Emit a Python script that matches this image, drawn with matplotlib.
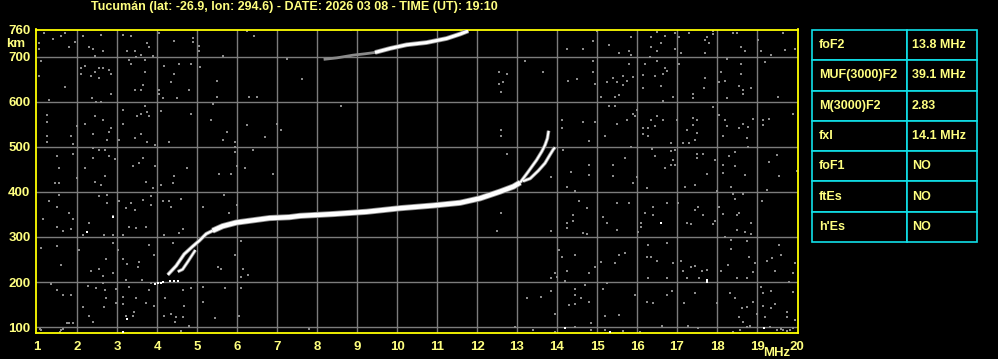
import matplotlib
matplotlib.use("Agg")
import matplotlib.pyplot as plt

# ionogram header / scaled parameters
title = "Tucumán (lat: -26.9, lon: 294.6) - DATE: 2026 03 08 - TIME (UT): 19:10"
param_names = ["foF2", "MUF(3000)F2", "M(3000)F2", "fxI", "foF1", "ftEs", "h'Es"]
param_values = ["13.8 MHz", "39.1 MHz", "2.83", "14.1 MHz", "NO", "NO", "NO"]

freq_ticks = list(range(1, 21))
height_ticks = [100, 200, 300, 400, 500, 600, 700, 760]

# F trace, ordinary, low end up to where it thickens
o_low_f = [4.27, 4.48, 4.68, 4.89, 5.06, 5.23, 5.39]
o_low_h = [216, 236, 262, 279, 292, 307, 314]
# F trace, thick main part
main_f = [5.39, 5.64, 5.98, 6.31, 6.81, 7.31, 7.58, 8.41, 9.24, 10.08, 10.91, 11.58, 12.08, 12.58, 12.91, 13.08]
main_h = [314, 324, 332, 336, 342, 344, 347, 351, 356, 364, 370, 376, 386, 401, 412, 421]
# cusp near foF2
o_cusp_f = [13.08, 13.28, 13.49, 13.62, 13.70, 13.76, 13.79]
o_cusp_h = [421, 445, 471, 490, 504, 519, 536]
# extraordinary branches
x_low_f = [4.52, 4.64, 4.77, 4.85, 4.96]
x_low_h = [223, 228, 245, 256, 271]
x_cusp_f = [13.15, 13.33, 13.53, 13.70, 13.82, 13.91, 13.95]
x_cusp_h = [424, 430, 447, 464, 482, 495, 499]
# little echoes at the very bottom of the trace
low_dots_f = [3.95, 4.02, 4.10, 4.15, 4.33, 4.43, 4.52]
low_dots_h = [196, 198, 197, 199, 203, 203, 203]
# second hop
hop2_grey_f = [8.20, 8.50, 8.90, 9.20, 9.45]
hop2_grey_h = [695, 698, 704, 707, 710]
hop2_f = [9.45, 9.83, 10.24, 10.74, 11.24, 11.58, 11.78]
hop2_h = [710, 719, 727, 732, 741, 751, 758]

# background noise echoes (grey)
noise_f = [1.18, 1.39, 1.6, 1.71, 1.79, 1.96, 1.06, 1.04, 2.14, 2.29, 2.41, 2.64, 2.6, 2.46, 3.16, 3.35,
           3.24, 3.45, 3.6, 3.75, 3.79, 3.89, 4.04, 4.43, 4.89, 4.89, 5.04, 5.04, 5.64, 6.24, 6.43,
           1.1, 1.04, 1.29, 1.71, 2.1, 2.1, 2.2, 2.35, 2.46, 2.54, 2.64, 2.54, 2.79, 2.85, 2.38, 2.48,
           2.6, 2.85, 3.29, 3.35, 3.48, 3.71, 3.71, 3.6, 3.46, 3.64, 4.18, 4.54, 4.85, 4.43, 4.35, 4.79,
           4.04, 4.06, 4.14, 4.49, 5.08, 5.49, 5.49, 6.29, 6.49, 7.24,
           1.25, 1.25, 1.25, 1.25, 1.85, 1.91, 1.99, 2.21, 2.46, 2.64, 2.85, 2.79, 2.39, 2.74, 3.04,
           3.16, 3.16, 3.49, 3.6, 3.75, 3.81, 3.7, 3.6, 3.45, 3.75, 3.95, 4.1, 4.31, 4.85, 5.35, 5.39,
           5.74, 5.64, 5.95, 5.95, 6.24, 6.7, 6.99, 7.1,
           1.5, 1.54, 1.89, 1.99, 2.39, 2.56, 2.71, 2.81, 2.95, 2.39, 2.21, 2.71, 3.39, 3.54, 3.64,
           3.96, 4.43, 4.75, 5.54, 5.85, 5.95, 6.0, 6.21, 6.39, 6.89,
           1.46, 1.54, 2.46, 2.6, 3.73, 3.89, 4.1, 4.39, 1.54, 1.29, 1.49, 1.79, 1.89, 2.29, 2.54, 2.74,
           2.74, 2.91, 3.04, 3.23, 3.35, 3.46, 3.64, 3.85, 3.85, 4.14, 4.31, 4.6, 4.35, 4.64, 5.14, 5.68,
           5.99, 5.79, 1.16, 1.49, 1.64, 1.85, 2.14, 2.68, 2.89, 2.91, 3.02, 3.29, 3.48, 3.14, 3.73,
           4.18, 4.39, 4.56, 1.1, 1.49, 2.06, 1.6, 2.35, 2.56, 2.64, 2.73, 2.91, 3.16, 3.24, 3.52, 3.56,
           3.81, 3.93, 3.63, 3.23, 2.64, 2.27, 1.85, 1.64, 1.49, 1.35, 2.48, 2.71, 2.73, 2.98, 3.16,
           3.29, 3.48, 3.81, 3.85, 4.21, 4.64, 4.85, 5.14, 5.14, 6.1, 5.71, 5.52, 5.6, 5.96, 6.1, 6.14,
           6.1, 6.27, 2.14, 2.31, 2.39, 2.68, 2.98, 3.16, 3.43, 3.23, 3.39, 3.73, 3.93, 4.18, 4.35,
           4.48, 4.68, 4.46, 4.64, 4.81, 5.45, 6.04, 1.79, 1.89, 1.08, 1.64, 4.6, 1.09, 1.58, 1.6,
           1.74, 1.89,
           7.62, 8.59, 12.55, 12.74, 12.56, 12.64, 12.59, 13.2, 13.64, 12.59, 12.59, 12.74, 13.84,
           12.59, 12.49, 13.84, 14.06, 13.95, 13.84, 13.99, 13.84, 13.59, 13.24, 13.95, 12.95, 13.39,
           7.81, 13.95, 8.84, 6.24,
           14.24, 14.64, 14.89, 14.99, 15.31, 15.56, 15.81, 15.84, 15.84, 16.34, 16.34, 16.49, 16.59,
           16.7, 16.49, 16.95, 16.95, 17.06, 17.09, 17.31, 17.7, 17.7, 17.81, 17.74, 17.89, 17.89,
           18.41, 18.49, 18.59, 18.7, 19.03, 19.09, 19.34, 19.64, 19.7, 19.95,
           14.89, 14.89, 14.95, 14.28, 14.49, 15.09, 15.24, 15.39, 15.45, 15.49, 15.56, 15.64, 15.64,
           15.74, 15.89, 15.81, 16.14, 16.14, 16.2, 16.33, 16.45, 16.49, 16.59, 16.64, 16.7, 16.74,
           16.89, 16.64, 17.06, 17.41, 17.41, 17.7, 17.68, 18.1, 18.05, 18.2, 18.24, 18.24, 18.55,
           18.59, 18.59, 18.64, 18.64, 18.84, 19.2, 19.53,
           14.12, 14.12, 14.64, 14.81, 14.95, 15.2, 15.31, 15.45, 15.49, 15.89, 15.95, 15.99, 15.74,
           15.84, 16.14, 16.14, 16.28, 16.28, 16.34, 16.45, 16.49, 16.64, 16.85, 16.99, 17.16, 17.24,
           17.31, 17.41, 17.41, 17.49, 17.49, 17.45, 17.89, 18.05, 18.14, 18.2, 18.24, 18.55, 18.64,
           18.78, 18.89, 18.74, 18.78, 19.14, 19.14, 19.31, 19.89,
           14.14, 14.34, 14.81, 14.81, 15.39, 15.39, 15.7, 15.99, 16.45, 16.37, 16.7, 16.85, 16.89,
           16.95, 16.85, 16.95, 17.49, 17.64, 17.49, 17.74, 17.95, 18.14, 18.14, 18.3, 18.45, 18.45,
           18.7, 19.31, 19.49, 19.56, 19.99,
           14.24, 14.45, 15.89, 16.24, 17.2, 17.45, 17.99, 18.34, 18.64, 18.41, 19.24, 19.12, 14.55,
           14.74, 14.39, 14.24, 14.24, 14.41, 14.64, 14.74, 15.14, 15.24, 15.49, 15.49, 15.81, 16.09,
           16.09, 16.03, 16.2, 16.39, 16.39, 16.74, 17.03, 17.24, 17.34, 17.45, 17.53, 17.64, 17.89,
           17.95, 18.05, 18.14, 18.45, 18.49, 18.55, 18.49, 18.7, 18.84, 18.84, 18.2, 18.34, 18.34,
           18.76, 18.81, 18.89, 18.95, 19.24, 19.38, 19.55, 19.59, 19.89, 19.95,
           14.12, 14.45, 14.26, 14.2, 14.81, 14.95, 15.09, 15.45, 15.56, 15.7, 16.26, 16.34, 16.28,
           16.49, 16.74, 16.74, 16.89, 16.28, 17.09, 17.16, 17.24, 17.34, 17.45, 17.56, 17.62, 17.74,
           18.1, 18.28, 18.74, 18.49, 19.45, 19.81,
           14.45, 14.45, 14.7, 14.59, 14.31, 14.45, 14.81, 15.14, 15.24, 15.2, 15.56, 15.95, 16.26,
           16.39, 16.74, 16.87, 17.18, 17.45, 17.99, 18.45, 18.33, 18.62, 18.74, 18.89, 18.56, 18.64,
           18.83, 19.0, 19.1, 19.14, 19.14, 19.2, 19.34, 19.34, 19.45, 19.74, 19.74, 19.95, 19.91,
           14.45, 14.84, 14.84, 15.2, 15.66, 16.08, 16.62, 17.28, 17.53, 18.41, 18.58, 18.74, 19.33,
           19.49, 19.66, 19.83, 19.6, 19.75, 19.9]
noise_h = [753, 740, 746, 753, 722, 734, 731, 718, 746, 722, 718, 714, 748, 703, 749, 746,
           714, 714, 705, 731, 722, 703, 753, 736, 743, 734, 725, 714, 703, 758, 746,
           690, 657, 605, 634, 675, 662, 681, 657, 666, 675, 675, 653, 671, 662, 608, 600,
           600, 617, 694, 684, 699, 694, 666, 627, 627, 637, 680, 684, 684, 662, 644, 627,
           627, 617, 608, 608, 677, 647, 612, 612, 612, 695,
           571, 555, 525, 511, 525, 506, 547, 551, 568, 560, 542, 533, 528, 516, 516,
           583, 551, 568, 573, 577, 568, 590, 528, 521, 511, 505, 580, 511, 573, 560, 595,
           533, 516, 511, 501, 549, 523, 551, 538,
           480, 453, 484, 432, 497, 494, 494, 480, 474, 475, 453, 436, 458, 464, 475,
           458, 436, 453, 440, 440, 489, 458, 453, 494, 440,
           421, 421, 423, 416, 423, 408, 416, 419, 393, 381, 367, 353, 339, 332, 390, 393,
           376, 347, 379, 364, 375, 360, 382, 390, 371, 381, 381, 384, 367, 317, 367, 393,
           371, 353, 339, 323, 314, 317, 304, 304, 304, 286, 271, 323, 319, 304, 323,
           304, 287, 308, 275, 279, 270, 238, 225, 228, 213, 250, 221, 250, 241, 234, 245,
           282, 260, 204, 204, 197, 191, 171, 171, 182, 196, 186, 182, 164, 184, 167,
           188, 164, 182, 197, 164, 182, 186, 190, 156, 186, 186, 233, 228, 260, 292, 230,
           212, 216, 145, 124, 112, 145, 154, 151, 134, 124, 124, 153, 147, 124, 129,
           123, 147, 112, 123, 102, 119, 124, 110, 110, 95, 95, 92, 93, 90, 94,
           110, 110,
           650, 591, 667, 662, 640, 645, 623, 690, 667, 538, 524, 484, 433,
           354, 314, 314, 270, 221, 208, 212, 181, 167, 164, 129, 101, 93,
           95, 90, 759, 759,
           718, 718, 736, 758, 726, 709, 714, 744, 704, 744, 722, 755, 731,
           746, 714, 753, 718, 744, 709, 753, 738, 709, 731, 744, 758, 750,
           753, 753, 722, 714, 738, 714, 705, 753, 716, 718,
           690, 667, 640, 646, 650, 612, 644, 653, 612, 644, 616, 657, 638,
           646, 655, 684, 659, 631, 684, 701, 657, 690, 635, 662, 675, 668,
           612, 603, 684, 618, 609, 653, 631, 667, 644, 646, 696, 609, 635,
           684, 662, 627, 618, 631, 689, 612,
           561, 542, 555, 514, 555, 524, 590, 590, 551, 573, 568, 583, 561,
           501, 542, 529, 542, 524, 561, 546, 568, 561, 509, 561, 509, 538,
           509, 564, 548, 531, 561, 516, 588, 570, 524, 561, 546, 542, 551,
           544, 563, 520, 501, 561, 548, 563, 573,
           494, 444, 459, 438, 459, 435, 475, 433, 479, 496, 453, 490, 470,
           494, 459, 459, 484, 484, 475, 440, 472, 461, 442, 479, 489, 457,
           438, 467, 483, 436, 446,
           412, 403, 421, 408, 412, 416, 403, 412, 396, 396, 404, 381, 381,
           364, 349, 332, 319, 336, 308, 307, 345, 332, 376, 316, 376, 330,
           322, 310, 353, 367, 349, 376, 376, 330, 329, 359, 367, 349, 329,
           336, 367, 351, 384, 349, 353, 316, 310, 332, 307, 301, 293, 273,
           290, 255, 223, 243, 247, 253, 282, 260, 221, 243,
           256, 260, 225, 203, 221, 233, 245, 243, 260, 265, 255, 255, 282,
           247, 287, 210, 243, 208, 247, 225, 210, 233, 236, 208, 225, 227,
           225, 238, 210, 208, 225, 201,
           184, 171, 193, 164, 149, 151, 156, 184, 197, 124, 127, 171, 156,
           154, 171, 181, 154, 176, 154, 164, 176, 142, 144, 156, 122, 112,
           102, 129, 188, 175, 147, 123, 181, 142, 151, 134, 122, 116, 178,
           101, 108, 93, 93, 92, 90, 102, 102, 97, 90, 93, 101, 101,
           93, 93, 93, 96, 92, 97]
# brighter isolated echoes (white)
spot_f = [2.89, 2.24, 3.24, 3.14, 16.59, 17.74, 17.74, 14.2, 15.33, 19.18]
spot_h = [345, 310, 117, 90, 330, 201, 205, 97, 90, 97]

yellow = "#ffff00"
text_yellow = "#ffff80"
grid_grey = "#7c7c7c"
cyan = "#10e0e8"
font = ["Liberation Sans", "DejaVu Sans"]

fig = plt.figure(figsize=(9.98, 3.59), dpi=100, facecolor="black")
ax = fig.add_axes([36 / 998, 26 / 359, 762 / 998, 303.5 / 359])
ax.set_facecolor("black")
ax.set_xlim(0.975, 20.025)
ax.set_ylim(86.7, 761)

for f in freq_ticks[1:-1]:
    ax.axvline(f, color=grid_grey, lw=1.0, zorder=1)
for h in height_ticks[:-1]:
    ax.axhline(h, color=grid_grey, lw=1.0, zorder=1)

ax.scatter(noise_f, noise_h, marker="s", s=4.2, color="#8c8c8c", linewidths=0, zorder=2)
ax.scatter(spot_f, spot_h, marker="s", s=4.5, color="white", linewidths=0, zorder=3)

# traces: grey halo then white core
def trace(fs, hs, lw):
    ax.plot(fs, hs, color="#8a8a8a", lw=lw + 1.2, solid_capstyle="butt", zorder=3)
    ax.plot(fs, hs, color="white", lw=lw, solid_capstyle="butt", zorder=4)

trace(o_low_f, o_low_h, 1.6)
trace(main_f, main_h, 3.2)
trace(o_cusp_f, o_cusp_h, 1.4)
trace(x_low_f, x_low_h, 1.3)
trace(x_cusp_f, x_cusp_h, 1.4)
ax.plot(hop2_grey_f, hop2_grey_h, color="#8a8a8a", lw=2.0, zorder=3)
trace(hop2_f, hop2_h, 2.2)
ax.scatter(low_dots_f, low_dots_h, marker="s", s=4.5, color="white", linewidths=0, zorder=4)

for side in ax.spines.values():
    side.set_color(yellow)
    side.set_linewidth(1.3)

ax.set_xticks(freq_ticks)
ax.set_yticks(height_ticks)
ax.tick_params(length=0, pad=6, colors=text_yellow)
ax.tick_params(axis="y", pad=4)
for lab in ax.get_xticklabels() + ax.get_yticklabels():
    lab.set_fontfamily(font)
    lab.set_fontweight("bold")
    lab.set_fontsize(9.5)

fig.text(6 / 998, 1 - 44 / 359, "km", color=text_yellow, fontsize=9.5, fontweight="bold",
         family=font, ha="left", va="center")
fig.text(790 / 998, 1 - 353 / 359, "MHz", color=text_yellow, fontsize=9.5, fontweight="bold",
         family=font, ha="right", va="center")
fig.text(294 / 998, 1 - 7 / 359, title, color=text_yellow, fontsize=9, fontweight="bold",
         family=font, ha="center", va="center")

# parameter table
tax = fig.add_axes([812 / 998, 1 - 242 / 359, 165 / 998, 212 / 359])
tax.axis("off")
rows = [[n, v] for n, v in zip(param_names, param_values)]
tbl = tax.table(cellText=rows, bbox=[0, 0, 1, 1], colWidths=[95 / 165, 70 / 165], cellLoc="left")
tbl.auto_set_font_size(False)
for cell in tbl.get_celld().values():
    cell.set_facecolor("black")
    cell.set_edgecolor(cyan)
    cell.set_linewidth(1.2)
    cell.PAD = 0.07
    cell.get_text().set_color(text_yellow)
    cell.get_text().set_fontsize(9)
    cell.get_text().set_fontweight("bold")
    cell.get_text().set_fontfamily(font)

fig.savefig("out.png", dpi=100, facecolor="black")
